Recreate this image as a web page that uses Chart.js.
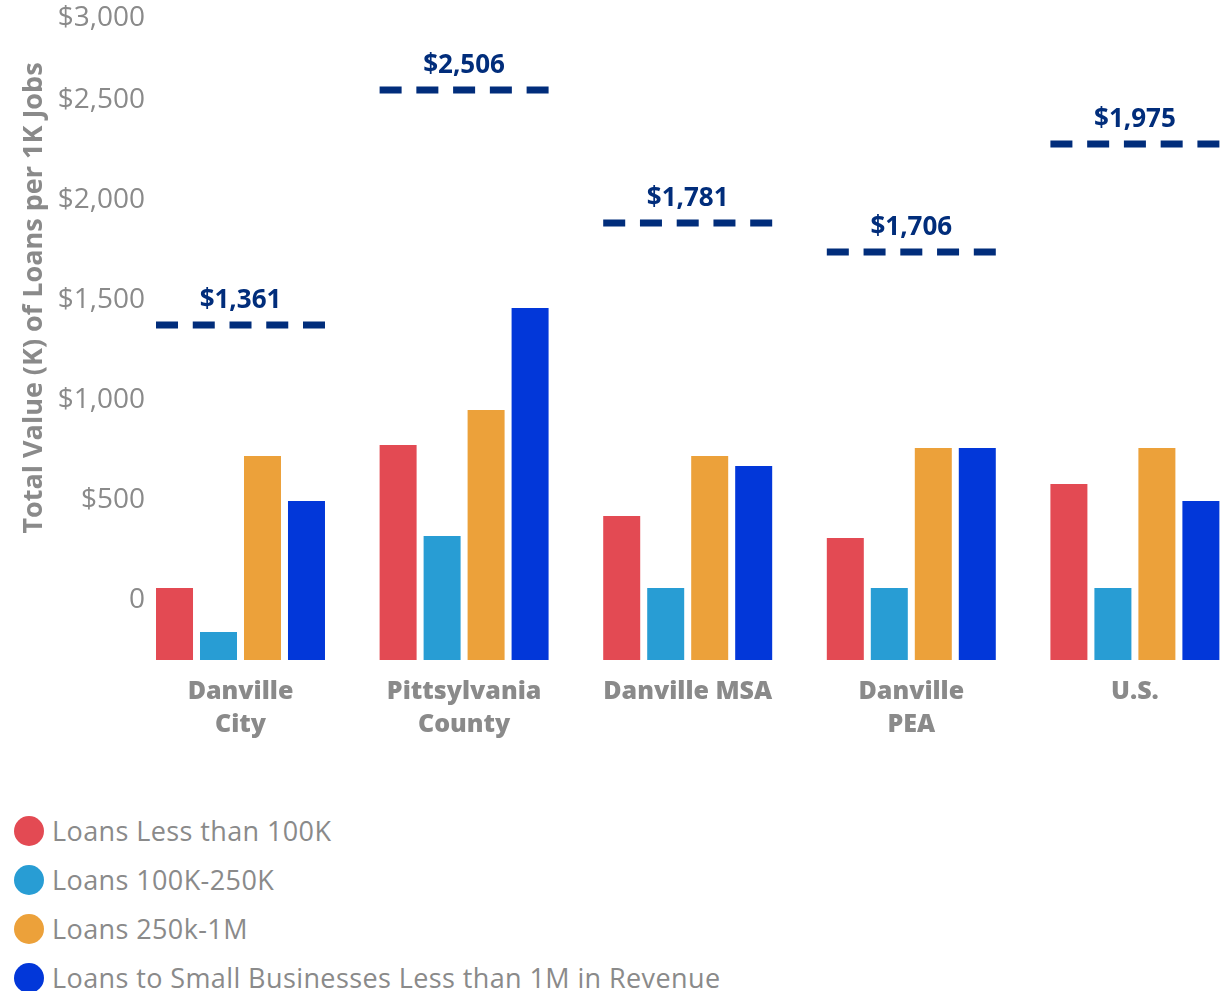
<!DOCTYPE html>
<html>
<head>
<meta charset="utf-8">
<script src="https://cdn.jsdelivr.net/npm/chart.js@4.4.1/dist/chart.umd.min.js"></script>
<style>
  html, body { margin: 0; padding: 0; background: #fff; overflow: hidden; }
  body { width: 1224px; height: 991px; position: relative; }
  #wrap { position: absolute; left: 0; top: 0; width: 1250px; height: 770px; }
  #legend { position: absolute; left: 14px; top: 806px; font-family: 'Open Sans', sans-serif; font-size: 27px; letter-spacing: 0.4px; color: #8a8a8a; }
  .item { display: flex; align-items: center; height: 49px; white-space: nowrap; }
  .dot { width: 30px; height: 30px; border-radius: 50%; margin-right: 8px; flex: none; }
</style>
</head>
<body>
<div id="wrap"><canvas id="chart" width="1250" height="770"></canvas></div>
<div id="legend"></div>
<script>
// categories and series, values read on the left axis
const categories = [['Danville', 'City'], ['Pittsylvania', 'County'], 'Danville MSA', ['Danville', 'PEA'], 'U.S.'];
const seriesNames = ['Loans Less than 100K', 'Loans 100K-250K', 'Loans 250k-1M', 'Loans to Small Businesses Less than 1M in Revenue'];
const seriesColors = ['#e34a53', '#289dd4', '#eca13a', '#0237d9'];
const loansUnder100k = [60, 775, 420, 310, 580];
const loans100kTo250k = [-160, 320, 60, 60, 60];
const loans250kTo1m = [720, 950, 720, 760, 760];
const loansSmallBiz = [495, 1460, 670, 760, 495];
// dashed total markers: level on the axis + printed label
const totalLevels = [1375, 2550, 1885, 1740, 2280];
const totalLabels = ['$1,361', '$2,506', '$1,781', '$1,706', '$1,975'];
const yTicks = [0, 500, 1000, 1500, 2000, 2500, 3000];
const axisMin = -300;
const axisMax = 3000;
const yTitle = 'Total Value (K) of Loans per 1K Jobs';

const gray = '#8a8a8a';
const navy = '#012d7b';
const yAxisWidth = 128.7;
const yLabelRight = 145;

function money(v) {
  return v === 0 ? '0' : '$' + v.toLocaleString('en-US');
}

const seriesValues = [loansUnder100k, loans100kTo250k, loans250kTo1m, loansSmallBiz];

// tick labels are drawn mirrored (so not clipped), right aligned on yLabelRight
const measure = document.createElement('canvas').getContext('2d');
measure.font = '28px "Open Sans"';
const widestTick = Math.max(...yTicks.map(v => measure.measureText(money(v)).width));

const totalsPlugin = {
  id: 'totals',
  afterDatasetsDraw(chart) {
    const ctx = chart.ctx;
    const y = chart.scales.y;
    const first = chart.getDatasetMeta(0).data;
    const last = chart.getDatasetMeta(seriesValues.length - 1).data;
    ctx.save();
    totalLevels.forEach((v, i) => {
      const x0 = first[i].x - first[i].width / 2;
      const x1 = last[i].x + last[i].width / 2;
      const py = y.getPixelForValue(v);
      ctx.strokeStyle = navy;
      ctx.lineWidth = 7;
      ctx.setLineDash([22, 14.75]);
      ctx.beginPath();
      ctx.moveTo(x0, py);
      ctx.lineTo(x1, py);
      ctx.stroke();
      ctx.setLineDash([]);
      ctx.fillStyle = navy;
      ctx.font = 'bold 26px "Open Sans"';
      ctx.textAlign = 'center';
      ctx.textBaseline = 'middle';
      ctx.fillText(totalLabels[i], (x0 + x1) / 2, py - 24);
    });
    ctx.restore();
  }
};

// rotated axis title, placed a bit above the middle like the original
const axisTitlePlugin = {
  id: 'axisTitle',
  afterDraw(chart) {
    const ctx = chart.ctx;
    ctx.save();
    ctx.translate(34, 298);
    ctx.rotate(-Math.PI / 2);
    ctx.fillStyle = gray;
    ctx.font = 'bold 27px "Open Sans"';
    ctx.textAlign = 'center';
    ctx.textBaseline = 'middle';
    ctx.fillText(yTitle, 0, 0);
    ctx.restore();
  }
};

const ctx = document.getElementById('chart').getContext('2d');
new Chart(ctx, {
  type: 'bar',
  data: {
    labels: categories,
    datasets: seriesValues.map((vals, i) => ({
      label: seriesNames[i],
      data: vals,
      backgroundColor: seriesColors[i],
      base: axisMin,
      categoryPercentage: 0.787,
      barPercentage: 0.841
    }))
  },
  options: {
    responsive: false,
    animation: false,
    layout: { padding: { left: 0, right: 3.3, top: 0, bottom: 0 } },
    plugins: {
      legend: { display: false },
      tooltip: { enabled: false }
    },
    scales: {
      x: {
        grid: { display: false, drawTicks: false },
        border: { display: false },
        ticks: {
          color: gray,
          padding: 15,
          maxRotation: 0,
          minRotation: 0,
          autoSkip: false,
          font: { family: 'Open Sans', size: 25, weight: 800, lineHeight: '33px' }
        },
        afterFit(scale) {
          scale.height = 110;
          scale.paddingLeft = 0;
          scale.paddingRight = 0;
        }
      },
      y: {
        min: axisMin,
        max: axisMax,
        grid: { display: false, drawTicks: false },
        border: { display: false },
        afterBuildTicks(scale) {
          scale.ticks = yTicks.map(v => ({ value: v }));
        },
        ticks: {
          color: gray,
          mirror: true,
          crossAlign: 'far',
          padding: yLabelRight - yAxisWidth - widestTick,
          font: { family: 'Open Sans', size: 28, lineHeight: '36px' },
          // top label sits half a line lower, as in the original
          callback: v => v === axisMax ? ['', money(v)] : money(v)
        },
        afterFit(scale) {
          scale.width = yAxisWidth;
          scale.paddingTop = 0;
          scale.paddingBottom = 0;
        }
      }
    }
  },
  plugins: [totalsPlugin, axisTitlePlugin]
});

// vertical legend under the chart
const legend = document.getElementById('legend');
seriesNames.forEach((name, i) => {
  const item = document.createElement('div');
  item.className = 'item';
  const dot = document.createElement('span');
  dot.className = 'dot';
  dot.style.background = seriesColors[i];
  const text = document.createElement('span');
  text.textContent = name;
  item.appendChild(dot);
  item.appendChild(text);
  legend.appendChild(item);
});
</script>
</body>
</html>
